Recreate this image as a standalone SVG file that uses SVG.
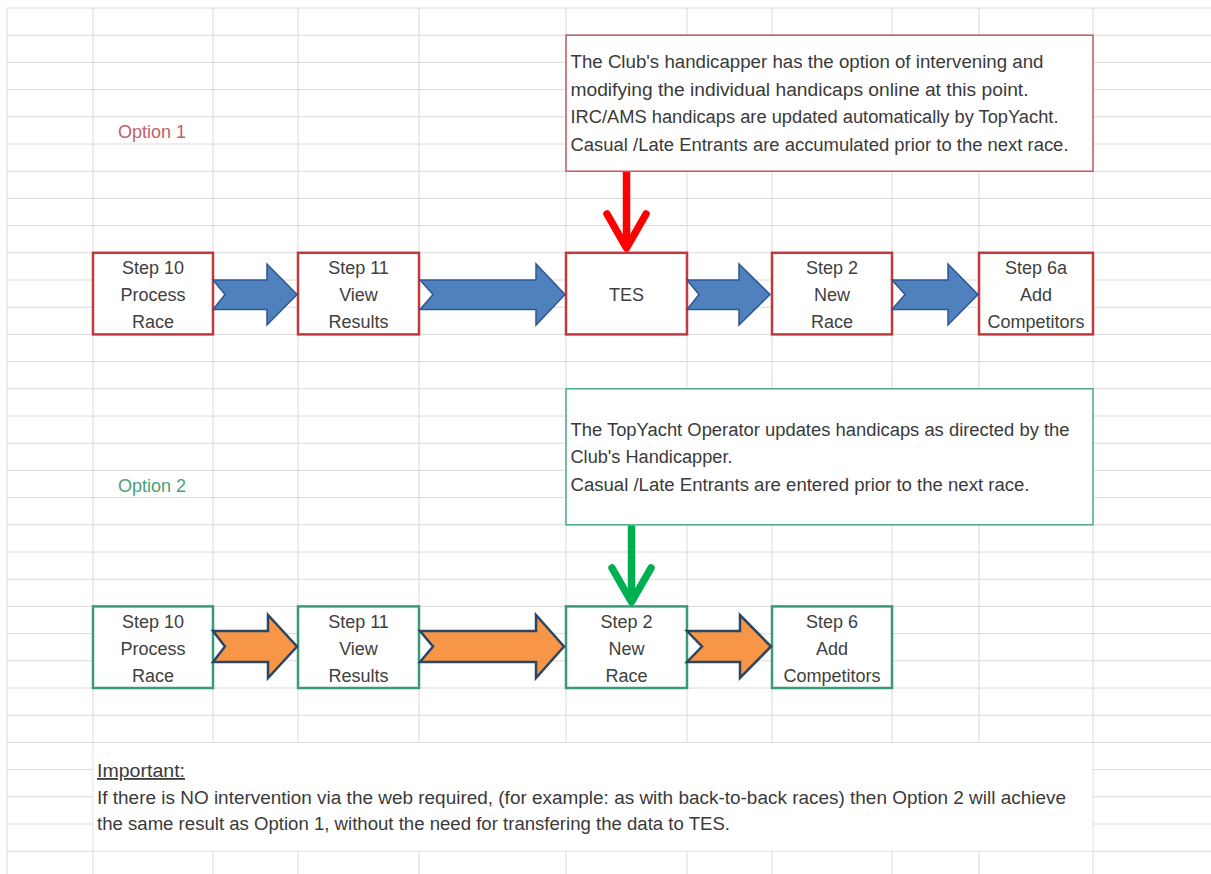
<svg xmlns="http://www.w3.org/2000/svg" width="1211" height="874" viewBox="0 0 1211 874">
<style>
.grid line{stroke:#DADADA;stroke-width:1}
.box1{fill:#FFFFFF;stroke:#C0393F;stroke-width:2.5}
.box2{fill:#FFFFFF;stroke:#3A9A78;stroke-width:2.5}
.call1{fill:#FFFFFF;stroke:#C45A5E;stroke-width:1.5}
.call2{fill:#FFFFFF;stroke:#4DAA88;stroke-width:1.5}
text{font-family:"Liberation Sans",Arial,sans-serif;font-size:18px;fill:#3A3A3A}
.lbl{text-anchor:middle;fill:#404040}
.blue{fill:#4F81BD;stroke:#2F5597;stroke-width:1.5;stroke-linejoin:miter}
.orange{fill:#F79646;stroke:#2B4563;stroke-width:2.5;stroke-linejoin:miter}
.down{fill:none;stroke-width:7.5;stroke-linecap:round;stroke-linejoin:round}
</style>
<rect x="0" y="0" width="1211" height="874" fill="#FFFFFF"/>
<g id="grid" class="grid">
<line x1="7" y1="8" x2="7" y2="874"/>
<line x1="93" y1="8" x2="93" y2="874"/>
<line x1="213" y1="8" x2="213" y2="874"/>
<line x1="298" y1="8" x2="298" y2="874"/>
<line x1="419" y1="8" x2="419" y2="874"/>
<line x1="566" y1="8" x2="566" y2="874"/>
<line x1="687" y1="8" x2="687" y2="874"/>
<line x1="772" y1="8" x2="772" y2="874"/>
<line x1="892" y1="8" x2="892" y2="874"/>
<line x1="979" y1="8" x2="979" y2="874"/>
<line x1="1093" y1="8" x2="1093" y2="874"/>
<line x1="7" y1="8" x2="1211" y2="8"/>
<line x1="7" y1="35.2" x2="1211" y2="35.2"/>
<line x1="7" y1="62.4" x2="1211" y2="62.4"/>
<line x1="7" y1="89.6" x2="1211" y2="89.6"/>
<line x1="7" y1="116.8" x2="1211" y2="116.8"/>
<line x1="7" y1="144" x2="1211" y2="144"/>
<line x1="7" y1="171.2" x2="1211" y2="171.2"/>
<line x1="7" y1="198.4" x2="1211" y2="198.4"/>
<line x1="7" y1="225.6" x2="1211" y2="225.6"/>
<line x1="7" y1="252.8" x2="1211" y2="252.8"/>
<line x1="7" y1="280" x2="1211" y2="280"/>
<line x1="7" y1="307.2" x2="1211" y2="307.2"/>
<line x1="7" y1="334.4" x2="1211" y2="334.4"/>
<line x1="7" y1="361.6" x2="1211" y2="361.6"/>
<line x1="7" y1="388.8" x2="1211" y2="388.8"/>
<line x1="7" y1="416" x2="1211" y2="416"/>
<line x1="7" y1="443.2" x2="1211" y2="443.2"/>
<line x1="7" y1="470.4" x2="1211" y2="470.4"/>
<line x1="7" y1="497.6" x2="1211" y2="497.6"/>
<line x1="7" y1="524.8" x2="1211" y2="524.8"/>
<line x1="7" y1="552" x2="1211" y2="552"/>
<line x1="7" y1="579.2" x2="1211" y2="579.2"/>
<line x1="7" y1="606.4" x2="1211" y2="606.4"/>
<line x1="7" y1="633.6" x2="1211" y2="633.6"/>
<line x1="7" y1="660.8" x2="1211" y2="660.8"/>
<line x1="7" y1="688" x2="1211" y2="688"/>
<line x1="7" y1="715.2" x2="1211" y2="715.2"/>
<line x1="7" y1="742.4" x2="1211" y2="742.4"/>
<line x1="7" y1="769.6" x2="1211" y2="769.6"/>
<line x1="7" y1="796.8" x2="1211" y2="796.8"/>
<line x1="7" y1="824" x2="1211" y2="824"/>
<line x1="7" y1="851.2" x2="1211" y2="851.2"/>
</g>
<g id="label-option1"><text x="118" y="138" style="fill:#C0606A">Option 1</text></g>
<g id="label-option2"><text x="118" y="492" style="fill:#4BA07A">Option 2</text></g>
<g id="note-option1">
<rect class="call1" x="566" y="35.2" width="527" height="136"/>
<text x="570.5" y="68" textLength="473" lengthAdjust="spacingAndGlyphs">The Club's handicapper has the option of intervening and</text>
<text x="570.5" y="96" textLength="458" lengthAdjust="spacingAndGlyphs">modifying the individual handicaps online at this point.</text>
<text x="570.5" y="123" textLength="488" lengthAdjust="spacingAndGlyphs">IRC/AMS handicaps are updated automatically by TopYacht.</text>
<text x="570.5" y="151" textLength="498" lengthAdjust="spacingAndGlyphs">Casual /Late Entrants are accumulated prior to the next race.</text>
</g>
<g id="note-option2">
<rect class="call2" x="566" y="388.8" width="527" height="136"/>
<text x="570.5" y="436" textLength="499" lengthAdjust="spacingAndGlyphs">The TopYacht Operator updates handicaps as directed by the</text>
<text x="570.5" y="463" textLength="162" lengthAdjust="spacingAndGlyphs">Club's Handicapper.</text>
<text x="570.5" y="491" textLength="459" lengthAdjust="spacingAndGlyphs">Casual /Late Entrants are entered prior to the next race.</text>
</g>
<g id="o1-step10"><rect class="box1" x="93" y="252.8" width="120" height="81.6"/>
<text class="lbl" x="153" y="274">Step 10</text><text class="lbl" x="153" y="301">Process</text><text class="lbl" x="153" y="328">Race</text></g>
<g id="o1-step11"><rect class="box1" x="298" y="252.8" width="121" height="81.6"/>
<text class="lbl" x="358.5" y="274">Step 11</text><text class="lbl" x="358.5" y="301">View</text><text class="lbl" x="358.5" y="328">Results</text></g>
<g id="o1-tes"><rect class="box1" x="566" y="252.8" width="121" height="81.6"/>
<text class="lbl" x="626.5" y="301">TES</text></g>
<g id="o1-step2"><rect class="box1" x="772" y="252.8" width="120" height="81.6"/>
<text class="lbl" x="832" y="274">Step 2</text><text class="lbl" x="832" y="301">New</text><text class="lbl" x="832" y="328">Race</text></g>
<g id="o1-step6a"><rect class="box1" x="979" y="252.8" width="114" height="81.6"/>
<text class="lbl" x="1036" y="274">Step 6a</text><text class="lbl" x="1036" y="301">Add</text><text class="lbl" x="1036" y="328">Competitors</text></g>
<g id="o2-step10"><rect class="box2" x="93" y="606.4" width="120" height="81.6"/>
<text class="lbl" x="153" y="628">Step 10</text><text class="lbl" x="153" y="655">Process</text><text class="lbl" x="153" y="682">Race</text></g>
<g id="o2-step11"><rect class="box2" x="298" y="606.4" width="121" height="81.6"/>
<text class="lbl" x="358.5" y="628">Step 11</text><text class="lbl" x="358.5" y="655">View</text><text class="lbl" x="358.5" y="682">Results</text></g>
<g id="o2-step2"><rect class="box2" x="566" y="606.4" width="121" height="81.6"/>
<text class="lbl" x="626.5" y="628">Step 2</text><text class="lbl" x="626.5" y="655">New</text><text class="lbl" x="626.5" y="682">Race</text></g>
<g id="o2-step6"><rect class="box2" x="772" y="606.4" width="120" height="81.6"/>
<text class="lbl" x="832" y="628">Step 6</text><text class="lbl" x="832" y="655">Add</text><text class="lbl" x="832" y="682">Competitors</text></g>
<g id="connectors">
<path class="blue" d="M213,280 L267,280 L267,264 L297,294.5 L267,325 L267,309.5 L213,309.5 L225,294.5 Z"/>
<path class="blue" d="M420,280 L536,280 L536,264 L565,294.5 L536,325 L536,309.5 L420,309.5 L433,294.5 Z"/>
<path class="blue" d="M687,280 L739,280 L739,264 L770,294.5 L739,325 L739,309.5 L687,309.5 L699,294.5 Z"/>
<path class="blue" d="M892,280 L948,280 L948,264 L978,294.5 L948,325 L948,309.5 L892,309.5 L905,294.5 Z"/>
<path class="orange" d="M213,631 L268,631 L268,615 L297,646.5 L268,678 L268,662 L213,662 L225,646.5 Z"/>
<path class="orange" d="M420,631 L536,631 L536,615 L564,646.5 L536,678 L536,662 L420,662 L433,646.5 Z"/>
<path class="orange" d="M687,631 L740,631 L740,615 L771,646.5 L740,678 L740,662 L687,662 L702,646.5 Z"/>
<line x1="626.5" y1="172" x2="626.5" y2="246" stroke="#FF0000" stroke-width="7.5"/>
<path class="down" stroke="#FF0000" d="M607,214 L626.5,248 L646,214"/>
<line x1="631.5" y1="525.5" x2="631.5" y2="600" stroke="#00B050" stroke-width="7.5"/>
<path class="down" stroke="#00B050" d="M612,568 L631.5,602 L651,568"/>
</g>
<g id="note-important">
<rect x="93.5" y="742.9" width="999" height="107.8" fill="#FFFFFF"/>
<text x="97" y="777" textLength="88" lengthAdjust="spacingAndGlyphs" style="text-decoration:underline">Important:</text>
<text x="97" y="803.5" textLength="969" lengthAdjust="spacingAndGlyphs">If there is NO intervention via the web required, (for example: as with back-to-back races) then Option 2 will achieve</text>
<text x="97" y="830" textLength="633" lengthAdjust="spacingAndGlyphs">the same result as Option 1, without the need for transfering the data to TES.</text>
</g>
</svg>
